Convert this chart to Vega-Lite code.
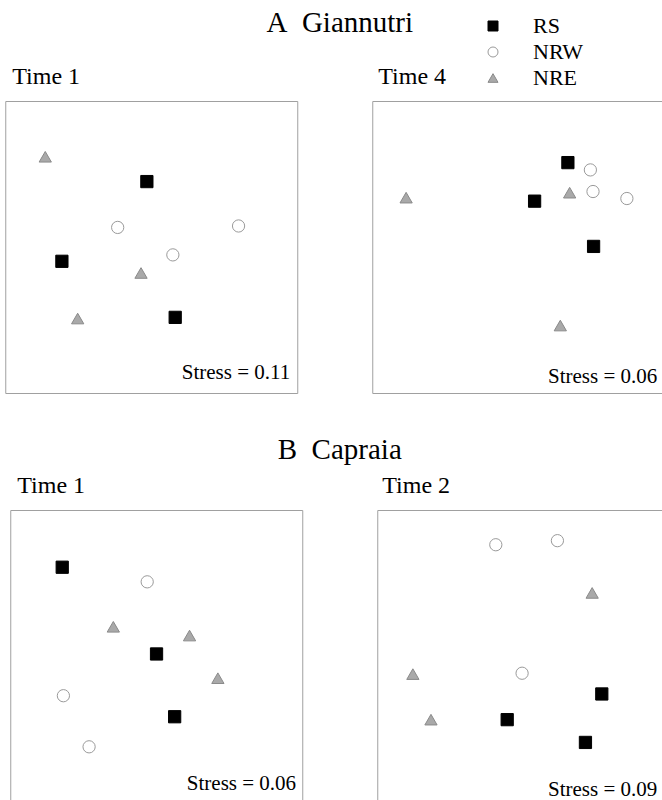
{
  "$schema": "https://vega.github.io/schema/vega-lite/v6.json",
  "padding": {"left": 4, "top": 8, "right": 0, "bottom": 0},
  "background": "white",
  "datasets": {
    "A1": [
      {"group": "NRE", "x": 13.7, "y": 80.9},
      {"group": "RS", "x": 48.5, "y": 72.4},
      {"group": "NRW", "x": 38.5, "y": 56.7},
      {"group": "NRW", "x": 79.9, "y": 57.2},
      {"group": "RS", "x": 19.4, "y": 45.1},
      {"group": "NRW", "x": 57.4, "y": 47.3},
      {"group": "NRE", "x": 46.5, "y": 41.1},
      {"group": "NRE", "x": 24.8, "y": 25.5},
      {"group": "RS", "x": 58.2, "y": 25.9}
    ],
    "A2": [
      {"group": "RS", "x": 67.0, "y": 78.9},
      {"group": "NRW", "x": 74.7, "y": 76.4},
      {"group": "NRE", "x": 67.6, "y": 68.6},
      {"group": "NRW", "x": 75.6, "y": 69.0},
      {"group": "NRW", "x": 87.2, "y": 66.6},
      {"group": "NRE", "x": 11.6, "y": 66.9},
      {"group": "RS", "x": 55.6, "y": 65.7},
      {"group": "RS", "x": 75.8, "y": 50.2},
      {"group": "NRE", "x": 64.4, "y": 23.1}
    ],
    "B1": [
      {"group": "RS", "x": 17.8, "y": 80.4},
      {"group": "NRW", "x": 46.9, "y": 75.4},
      {"group": "NRE", "x": 35.3, "y": 60.0},
      {"group": "NRE", "x": 61.4, "y": 57.0},
      {"group": "RS", "x": 50.1, "y": 50.7},
      {"group": "NRE", "x": 71.1, "y": 42.4},
      {"group": "NRW", "x": 18.2, "y": 36.4},
      {"group": "RS", "x": 56.3, "y": 29.2},
      {"group": "NRW", "x": 27.0, "y": 18.9}
    ],
    "B2": [
      {"group": "NRW", "x": 40.6, "y": 88.1},
      {"group": "NRW", "x": 61.7, "y": 89.5},
      {"group": "NRE", "x": 73.6, "y": 71.6},
      {"group": "NRE", "x": 12.2, "y": 43.8},
      {"group": "NRW", "x": 49.6, "y": 44.1},
      {"group": "RS", "x": 76.9, "y": 37.0},
      {"group": "NRE", "x": 18.4, "y": 28.2},
      {"group": "RS", "x": 44.5, "y": 28.2},
      {"group": "RS", "x": 71.3, "y": 20.4}
    ],
    "stress": [
      {"panel": "A1", "label": "Stress = 0.11"},
      {"panel": "A2", "label": "Stress = 0.06"},
      {"panel": "B1", "label": "Stress = 0.06"},
      {"panel": "B2", "label": "Stress = 0.09"}
    ]
  },
  "vconcat": [
    {
      "title": {"text": "A\u2002Giannutri", "anchor": "middle", "offset": 27, "fontSize": 29, "font": "Liberation Serif", "fontWeight": "normal", "color": "#000"},
      "spacing": 73,
      "hconcat": [
        {
          "width": 292, "height": 292,
          "title": {"text": "Time 1", "anchor": "start", "dx": 7, "offset": 12, "fontSize": 24, "font": "Liberation Serif", "fontWeight": "normal", "color": "#000"},
          "layer": [
            {
              "data": {"name": "A1"},
              "mark": {"type": "point", "filled": true, "size": 150, "strokeWidth": 1, "opacity": 1},
              "encoding": {
                "x": {"field": "x", "type": "quantitative", "scale": {"domain": [0, 100], "nice": false, "zero": false}, "axis": null},
                "y": {"field": "y", "type": "quantitative", "scale": {"domain": [0, 100], "nice": false, "zero": false}, "axis": null},
                "shape": {"field": "group", "type": "nominal", "scale": {"domain": ["RS", "NRW", "NRE"], "range": ["square", "circle", "triangle-up"]}},
                "fill": {"field": "group", "type": "nominal", "scale": {"domain": ["RS", "NRW", "NRE"], "range": ["#000000", "#ffffff", "#a9a9a9"]}},
                "stroke": {"field": "group", "type": "nominal", "scale": {"domain": ["RS", "NRW", "NRE"], "range": ["#000000", "#9a9a9a", "#8a8a8a"]}}
              }
            },
            {
              "data": {"name": "stress"},
              "transform": [{"filter": "datum.panel === 'A1'"}],
              "mark": {"type": "text", "align": "right", "baseline": "alphabetic", "font": "Liberation Serif", "fontSize": 21, "color": "#000"},
              "encoding": {
                "x": {"datum": 97.6, "type": "quantitative"},
                "y": {"datum": 4.8, "type": "quantitative"},
                "text": {"field": "label", "type": "nominal"}
              }
            }
          ]
        },
        {
          "width": 292, "height": 292,
          "title": {"text": "Time 4", "anchor": "start", "dx": 6, "offset": 12, "fontSize": 24, "font": "Liberation Serif", "fontWeight": "normal", "color": "#000"},
          "layer": [
            {
              "data": {"name": "A2"},
              "mark": {"type": "point", "filled": true, "size": 150, "strokeWidth": 1, "opacity": 1},
              "encoding": {
                "x": {"field": "x", "type": "quantitative", "scale": {"domain": [0, 100], "nice": false, "zero": false}, "axis": null},
                "y": {"field": "y", "type": "quantitative", "scale": {"domain": [0, 100], "nice": false, "zero": false}, "axis": {"orient": "right", "domain": false, "ticks": false, "labels": false, "grid": false, "title": null, "minExtent": 10, "maxExtent": 10}},
                "shape": {"field": "group", "type": "nominal"},
                "fill": {"field": "group", "type": "nominal"},
                "stroke": {"field": "group", "type": "nominal"}
              }
            },
            {
              "data": {"name": "stress"},
              "transform": [{"filter": "datum.panel === 'A2'"}],
              "mark": {"type": "text", "align": "right", "baseline": "alphabetic", "font": "Liberation Serif", "fontSize": 21, "color": "#000"},
              "encoding": {
                "x": {"datum": 97.6, "type": "quantitative"},
                "y": {"datum": 3.4, "type": "quantitative"},
                "text": {"field": "label", "type": "nominal"}
              }
            }
          ]
        }
      ]
    },
    {
      "title": {"text": "B\u2002Capraia", "anchor": "middle", "offset": 9, "fontSize": 29, "font": "Liberation Serif", "fontWeight": "normal", "color": "#000"},
      "spacing": 73,
      "hconcat": [
        {
          "width": 292, "height": 292,
          "title": {"text": "Time 1", "anchor": "start", "dx": 7, "offset": 12, "fontSize": 24, "font": "Liberation Serif", "fontWeight": "normal", "color": "#000"},
          "layer": [
            {
              "data": {"name": "B1"},
              "mark": {"type": "point", "filled": true, "size": 150, "strokeWidth": 1, "opacity": 1},
              "encoding": {
                "x": {"field": "x", "type": "quantitative", "scale": {"domain": [0, 100], "nice": false, "zero": false}, "axis": null},
                "y": {"field": "y", "type": "quantitative", "scale": {"domain": [0, 100], "nice": false, "zero": false}, "axis": null},
                "shape": {"field": "group", "type": "nominal"},
                "fill": {"field": "group", "type": "nominal"},
                "stroke": {"field": "group", "type": "nominal"}
              }
            },
            {
              "data": {"name": "stress"},
              "transform": [{"filter": "datum.panel === 'B1'"}],
              "mark": {"type": "text", "align": "right", "baseline": "alphabetic", "font": "Liberation Serif", "fontSize": 21, "color": "#000"},
              "encoding": {
                "x": {"datum": 97.9, "type": "quantitative"},
                "y": {"datum": 4.2, "type": "quantitative"},
                "text": {"field": "label", "type": "nominal"}
              }
            }
          ]
        },
        {
          "width": 292, "height": 292,
          "title": {"text": "Time 2", "anchor": "start", "dx": 5, "offset": 12, "fontSize": 24, "font": "Liberation Serif", "fontWeight": "normal", "color": "#000"},
          "layer": [
            {
              "data": {"name": "B2"},
              "mark": {"type": "point", "filled": true, "size": 150, "strokeWidth": 1, "opacity": 1},
              "encoding": {
                "x": {"field": "x", "type": "quantitative", "scale": {"domain": [0, 100], "nice": false, "zero": false}, "axis": null},
                "y": {"field": "y", "type": "quantitative", "scale": {"domain": [0, 100], "nice": false, "zero": false}, "axis": null},
                "shape": {"field": "group", "type": "nominal"},
                "fill": {"field": "group", "type": "nominal"},
                "stroke": {"field": "group", "type": "nominal"}
              }
            },
            {
              "data": {"name": "stress"},
              "transform": [{"filter": "datum.panel === 'B2'"}],
              "mark": {"type": "text", "align": "right", "baseline": "alphabetic", "font": "Liberation Serif", "fontSize": 21, "color": "#000"},
              "encoding": {
                "x": {"datum": 95.9, "type": "quantitative"},
                "y": {"datum": 2.2, "type": "quantitative"},
                "text": {"field": "label", "type": "nominal"}
              }
            }
          ]
        }
      ]
    }
  ],
  "center": true,
  "spacing": 41,
  "resolve": {"scale": {"shape": "shared", "fill": "shared", "stroke": "shared"}},
  "config": {
    "view": {"stroke": "#a0a0a0", "strokeWidth": 1},
    "legend": {
      "orient": "none",
      "legendX": 477,
      "legendY": -86,
      "title": null,
      "padding": 0,
      "labelFont": "Liberation Serif",
      "labelFontSize": 22,
      "labelColor": "#000",
      "labelOffset": 29,
      "symbolSize": 100,
      "symbolStrokeWidth": 1,
      "rowPadding": 4
    }
  }
}
